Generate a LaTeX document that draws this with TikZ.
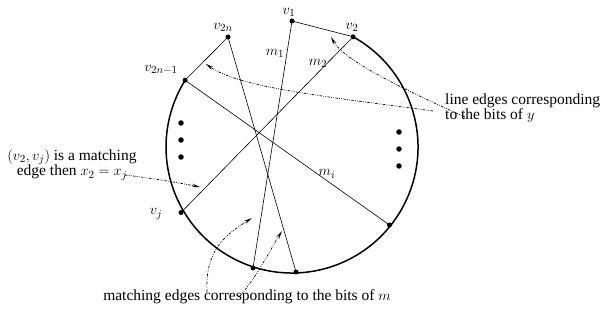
\documentclass[tikz,border=0pt]{standalone}
\usepackage{fontspec}
\setmainfont{Liberation Serif}
\usetikzlibrary{arrows.meta}
\newcommand\figtightfont{\fontsize{15.5}{15.5}\selectfont\lineskiplimit-100pt\relax}
\tikzset{
  vdot/.style={circle,fill=black,inner sep=0pt,minimum size=5pt},
  bigdot/.style={circle,fill=black,inner sep=0pt,minimum size=5.5pt},
  edge/.style={line width=0.6pt},
  rim/.style={line width=1.5pt},
  lbl/.style={inner sep=0pt,font=\fontsize{15.5}{14}\selectfont},
  txt/.style={inner sep=0pt,font=\figtightfont},
  pointer/.style={line width=0.7pt,dash pattern=on 2.5pt off 1.3pt on 0.8pt off 1.3pt on 0.8pt off 1.3pt,
    -{Stealth[length=8pt,width=3.5pt]}}
}
\begin{document}
\begin{tikzpicture}[x=1pt,y=-1pt]
\useasboundingbox (0,0) rectangle (610,320);
% vertices
\node[vdot] (v1) at (292,21) {};
\node[vdot] (v2) at (353.1,36.8) {};
\node[vdot] (v2n) at (228,37) {};
\node[vdot] (v2n1) at (185.1,80.2) {};
\node[vdot] (vj) at (181,212.5) {};
\node[vdot] (b1) at (253,268) {};
\node[vdot] (b2) at (296,272) {};
\node[vdot] (r1) at (389.5,225) {};
% rim
\draw[rim] (v2.center) arc[start angle=-61, end angle=212, radius=126];
% edges
\draw[edge] (v1.center) -- (v2.center);
\draw[edge] (v1.center) -- (b1.center);
\draw[edge] (v2.center) -- (vj.center);
\draw[edge] (v2n.center) -- (b2.center);
\draw[edge] (v2n.center) -- (v2n1.center);
\draw[edge] (v2n1.center) -- (r1.center);
% dots
\node[bigdot] (l1) at (181,123) {};
\node[bigdot] (l2) at (181,140) {};
\node[bigdot] (l3) at (181,157) {};
\node[bigdot] (q1) at (399,132) {};
\node[bigdot] (q2) at (399,149) {};
\node[bigdot] (q3) at (399,166) {};
% labels
\node[lbl] (tv1) at (289,12) {$v_1$};
\node[lbl] (tv2) at (352,27) {$v_2$};
\node[lbl] (tv2n) at (223,27) {$v_{2n}$};
\node[lbl] (tv2n1) at (161,70) {$v_{2n-1}$};
\node[lbl] (tvj) at (156,214) {$v_j$};
\node[lbl] (tm1) at (275,53) {$m_1$};
\node[lbl] (tm2) at (318,63) {$m_2$};
\node[lbl] (tmi) at (327,174) {$m_i$};
% texts
\node[txt,align=left,anchor=west] (tR) at (445,108) {line edges corresponding\\to the bits of $y$};
\node[txt,align=center] (tL) at (72,165) {$(v_2,v_j)$ is a matching\\edge then $x_2=x_j$};
\node[txt,anchor=base] (tB) at (247,300) {matching edges corresponding to the bits of $m$};
% pointer anchors
\coordinate (pa0) at (433,111);
\coordinate (pa1) at (206,64);
\coordinate (pb0) at (465,117);
\coordinate (pb1) at (331,37);
\coordinate (pc0) at (125,175);
\coordinate (pc1) at (200,187);
\coordinate (pd0) at (207,292);
\coordinate (pd1) at (252,218);
\coordinate (pe0) at (240,296);
\coordinate (pe1) at (282,231);
% pointers
\draw[pointer] (pa0) .. controls (330,97) and (240,88) .. (pa1);
\draw[pointer] (pb0) .. controls (410,92) and (345,62) .. (pb1);
\draw[pointer] (pc0) .. controls (150,178) and (175,182) .. (pc1);
\draw[pointer] (pd0) .. controls (205,250) and (225,235) .. (pd1);
\draw[pointer] (pe0) .. controls (258,275) and (270,250) .. (pe1);
\end{tikzpicture}
\end{document}
